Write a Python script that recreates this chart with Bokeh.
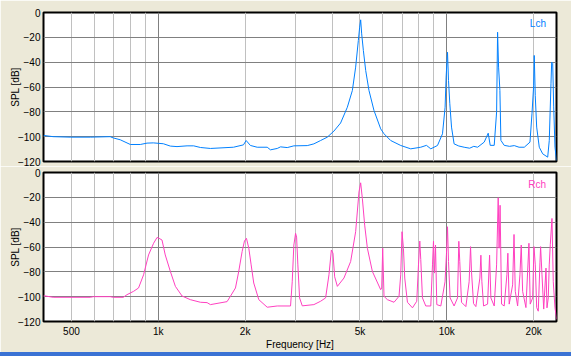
from bokeh.plotting import figure
from bokeh.models import Range1d, FixedTicker, Grid, Label, ColumnDataSource, Div
from bokeh.layouts import column
from bokeh.embed import file_html
from bokeh.resources import INLINE

# ---- data ----
x_tick_values = [500, 1000, 2000, 5000, 10000, 20000]
x_tick_labels = ["500", "1k", "2k", "5k", "10k", "20k"]
x_minor_grid = [500, 600, 700, 800, 900, 2000, 3000, 4000, 5000, 6000, 7000, 8000, 9000, 20000]
x_major_grid = [1000, 10000]
y_ticks = [0, -20, -40, -60, -80, -100, -120]

lch_freq = [400, 432, 495, 581, 681, 698, 738, 800, 866, 914, 961, 1041, 1101, 1161, 1258, 1326,
            1399, 1516, 1822, 1973, 2016, 2086, 2202, 2385, 2448, 2584, 2653, 2798, 2950, 3283,
            3461, 3652, 3853, 4062, 4284, 4521, 4706, 4831, 4936, 4988, 5028, 5069, 5138, 5234,
            5373, 5592, 5900, 6058, 6391, 6923, 7499, 8123, 8500, 8800, 9284, 9661, 9865, 9945,
            10056, 10137, 10243, 10383, 10600, 11000, 11484, 12000, 12400, 12787, 13477, 13915,
            14139, 14598, 14881, 14997, 15118, 15276, 15399, 15812, 16500, 17131, 17800, 18557,
            19422, 19734, 19999, 20096, 20258, 20488, 20918, 21494, 22370, 22655, 22966, 23094,
            23281, 23469, 23714, 24000]
lch_db = [-99, -100, -100.4, -100.4, -100, -101, -102.5, -106.3, -106.3, -105.2, -105, -105.7,
          -107.6, -108, -107.4, -107.4, -108.7, -109.5, -108.5, -106.6, -103.1, -107.1, -108.5,
          -108.5, -110.6, -109.5, -108.2, -108.8, -107.4, -107.2, -105.8, -103.1, -100.4, -95.5,
          -89, -76.3, -62.8, -44, -22.5, -11.8, -5.9, -17.2, -30.6, -46.7, -62.8, -78.9, -93.7,
          -97.7, -103.1, -107.1, -109.8, -108.5, -107, -109.8, -107.1, -97.7, -76.3, -52, -32,
          -54.8, -73.5, -92.3, -105.8, -107.5, -108.5, -109.3, -107.8, -108.5, -104.4, -97.2,
          -107, -107, -80, -15.9, -44, -62.8, -103, -107, -107.8, -107.2, -108.5, -108.5, -104.4,
          -81.6, -59, -34.6, -67, -92.3, -108.5, -113.8, -116.5, -103, -57.4, -40, -41, -76,
          -108.5, -119.2]

rch_freq = [400, 432, 581, 595, 681, 698, 756, 779, 821, 854, 889, 925, 963, 990, 1006, 1030,
            1057, 1101, 1146, 1209, 1291, 1399, 1476, 1516, 1731, 1778, 1851, 1900, 1952, 1989,
            2021, 2059, 2098, 2142, 2230, 2385, 2584, 2873, 2912, 2950, 2991, 3015, 3046, 3088,
            3155, 3461, 3652, 3801, 3904, 3980, 4031, 4086, 4175, 4400, 4642, 4831, 4961, 5028,
            5097, 5192, 5305, 5521, 5900, 5947, 5995, 6058, 6224, 6562, 6829, 6923, 6995, 7074,
            7148, 7304, 7602, 7868, 7976, 8060, 8123, 8234, 8455, 8800, 8920, 8992, 9064, 9138,
            9233, 9532, 9860, 9975, 10056, 10137, 10268, 10600, 10893, 11006, 11090, 11245, 11641,
            11951, 12086, 12185, 12380, 12610, 13020, 13125, 13230, 13410, 13846, 14070, 14215,
            14600, 14880, 15070, 15180, 15300, 15480, 15810, 16155, 16280, 16455, 16910, 17100,
            17270, 17600, 17925, 18113, 18315, 18805, 19060, 19260, 19460, 19840, 20050, 20260,
            20490, 20750, 21030, 21140, 21375, 21670, 22070, 22245, 22475, 22650, 22840, 23150,
            23390, 23710, 24040]
rch_db = [-99.2, -100.5, -100.5, -100, -100, -100.5, -100.5, -98.4, -95.7, -93, -82.4, -66.4,
          -57, -52.3, -53, -54.4, -66.4, -79.7, -91.7, -99.5, -102.4, -104.5, -104.8, -106.4,
          -104, -99.7, -93, -79.7, -63.7, -55.2, -53, -61, -74.4, -89, -102.4, -108.5, -107.5,
          -107.5, -88, -58.4, -49, -52, -74.4, -101, -107.4, -106.4, -103.7, -101, -82.4, -62.4,
          -65, -84, -91.7, -85, -71.7, -47.7, -15.7, -8.3, -21, -42.4, -61, -79.7, -94.4, -93,
          -61, -99.7, -102.4, -104.5, -99.7, -82.4, -47.7, -61, -85, -104.5, -109, -103.7, -74.4,
          -55.2, -70, -101, -107.5, -107.5, -74.4, -55.4, -81, -58.4, -106.4, -107.5, -88, -65,
          -43.7, -71.7, -101, -107.5, -101, -55.4, -71.7, -104.5, -108, -88, -59.7, -80.9,
          -105.6, -108, -85, -66.6, -88, -107.5, -106, -66.6, -101, -107.5, -74.4, -20.3, -61,
          -26.4, -106, -107.5, -82.4, -65, -106, -90.5, -49.9, -95.7, -107.5, -82.4, -58.4,
          -95.7, -108.8, -80, -57, -106, -101, -59.7, -74.4, -108.8, -111.7, -72.8, -59.7, -82.4,
          -110, -77, -109, -101, -74.4, -58, -37, -88, -109, -118.4]

# ---- styling ----
BG = "#ECE9D8"
FONT = "Liberation Sans"
FS = "10px"
BLUE = "#0080FF"
PINK = "#FF40C0"


def make_panel(height, top, bottom, show_x):
    p = figure(width=571, height=height, x_axis_type="log",
               x_range=Range1d(400, 24000), y_range=Range1d(-120, 0),
               output_backend="svg", toolbar_location=None,
               x_axis_location="below" if show_x else None,
               min_border_left=43, min_border_right=15,
               min_border_top=top, min_border_bottom=bottom,
               background_fill_color="white", border_fill_color=BG,
               outline_line_color="black", outline_line_width=2)
    p.center = [r for r in p.center if not isinstance(r, Grid)]
    p.add_layout(Grid(dimension=0, ticker=FixedTicker(ticks=x_minor_grid),
                      grid_line_color="#C0C0C0", grid_line_width=1))
    p.add_layout(Grid(dimension=0, ticker=FixedTicker(ticks=x_major_grid),
                      grid_line_color="#808080", grid_line_width=1))
    p.add_layout(Grid(dimension=1, ticker=FixedTicker(ticks=y_ticks[1:-1]),
                      grid_line_color="#808080", grid_line_width=1))

    ya = p.yaxis[0]
    ya.ticker = FixedTicker(ticks=y_ticks)
    ya.axis_label = "SPL [dB]"
    ya.axis_line_color = None
    ya.major_tick_line_color = None
    ya.minor_tick_line_color = None
    ya.major_tick_out = 0
    ya.major_tick_in = 0
    ya.minor_tick_out = 0
    ya.minor_tick_in = 0
    ya.major_label_standoff = 3
    ya.axis_label_standoff = -6
    ya.major_label_text_font = FONT
    ya.major_label_text_font_size = FS
    ya.major_label_text_color = "black"
    ya.axis_label_text_font = FONT
    ya.axis_label_text_font_size = FS
    ya.axis_label_text_font_style = "normal"
    ya.axis_label_text_color = "black"

    if show_x:
        xa = p.xaxis[0]
        xa.ticker = FixedTicker(ticks=x_tick_values)
        xa.major_label_overrides = dict(zip(x_tick_values, x_tick_labels))
        xa.axis_label = "Frequency [Hz]"
        xa.axis_line_color = None
        xa.major_tick_line_color = None
        xa.minor_tick_line_color = None
        xa.major_tick_out = 0
        xa.major_tick_in = 0
        xa.minor_tick_out = 0
        xa.minor_tick_in = 0
        xa.major_label_standoff = 4
        xa.axis_label_standoff = -1
        xa.major_label_text_font = FONT
        xa.major_label_text_font_size = FS
        xa.major_label_text_color = "black"
        xa.axis_label_text_font = FONT
        xa.axis_label_text_font_size = FS
        xa.axis_label_text_font_style = "normal"
        xa.axis_label_text_color = "black"
    return p


p1 = make_panel(166, 12, 5, False)
p1.line(x="f", y="db", source=ColumnDataSource(dict(f=lch_freq, db=lch_db)),
        line_color=BLUE, line_width=1)
p1.add_layout(Label(x=22070, y=-8.6, text="Lch", text_align="right", text_baseline="middle",
                    text_color=BLUE, text_font=FONT, text_font_size=FS))

p2 = make_panel(186, 6, 30, True)
p2.line(x="f", y="db", source=ColumnDataSource(dict(f=rch_freq, db=rch_db)),
        line_color=PINK, line_width=1)
p2.add_layout(Label(x=22070, y=-9.6, text="Rch", text_align="right", text_baseline="middle",
                    text_color=PINK, text_font=FONT, text_font_size=FS))

strip = Div(text="", width=571, height=4, margin=0,
            styles={"background-color": "#3A72D4"})

layout = column(p1, p2, strip, spacing=0)
open("out.html", "w").write(file_html(layout, INLINE))
